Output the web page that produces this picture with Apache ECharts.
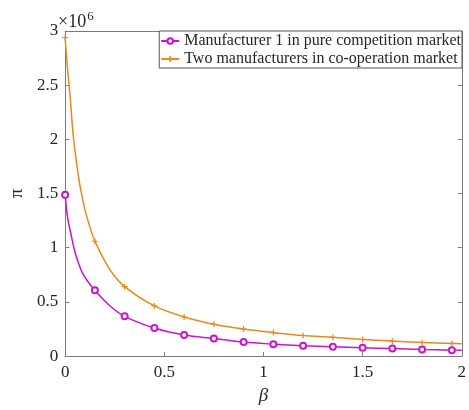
<!DOCTYPE html>
<html>
<head>
<meta charset="utf-8">
<script src="https://cdn.jsdelivr.net/npm/echarts@6/dist/echarts.min.js"></script>
<style>
html,body{margin:0;padding:0;background:#fff;}
#chart{width:469px;height:410px;}
</style>
</head>
<body>
<div id="chart"></div>
<script>
// beta values (x) and profit values in units of 1e6
const seriesNames = ['Manufacturer 1 in pure competition market', 'Two manufacturers in co-operation market'];
const markerBeta = [0, 0.15, 0.3, 0.45, 0.6, 0.75, 0.9, 1.05, 1.2, 1.35, 1.5, 1.65, 1.8, 1.95];

// Manufacturer 1 curve (read points, including extra points along the steep start)
const betaM1 = [0, 0.013, 0.03, 0.048, 0.065, 0.084, 0.11, 0.15, 0.225, 0.3, 0.45, 0.6, 0.75, 0.9, 1.05, 1.2, 1.35, 1.5, 1.65, 1.8, 1.95, 2.0];
const piM1   = [1.49, 1.27, 1.12, 0.97, 0.87, 0.78, 0.70, 0.607, 0.465, 0.367, 0.259, 0.195, 0.162, 0.129, 0.110, 0.096, 0.086, 0.077, 0.069, 0.061, 0.055, 0.054];

// Two manufacturers curve
const betaCo = [0, 0.012, 0.025, 0.04, 0.06, 0.076, 0.1, 0.125, 0.15, 0.225, 0.3, 0.45, 0.6, 0.75, 0.9, 1.05, 1.2, 1.35, 1.5, 1.65, 1.8, 1.95, 2.0];
const piCo   = [2.94, 2.65, 2.40, 2.05, 1.75, 1.56, 1.35, 1.19, 1.06, 0.80, 0.641, 0.463, 0.361, 0.294, 0.249, 0.217, 0.190, 0.174, 0.153, 0.138, 0.126, 0.117, 0.115];

const xTicks = [0, 0.5, 1, 1.5, 2];
const yTicks = [0, 0.5, 1, 1.5, 2, 2.5, 3];

const colM1 = '#cc14cc';
const colCo = '#e8891a';
const plusPath = 'path://M5,0 L5,10 M0,5 L10,5';

function isMarker(b){ return markerBeta.some(m => Math.abs(m - b) < 1e-9); }
function buildData(xs, ys){
  return xs.map((x, i) => isMarker(x) ? {value:[x, ys[i]]} : {value:[x, ys[i]], symbol:'none'});
}

const font = '"Liberation Serif", "Times New Roman", serif';
const axisCol = '#7a7a7a';
const txtCol = '#262626';

const chart = echarts.init(document.getElementById('chart'), null, {renderer:'canvas'});
const baseAxis = {
  type:'value', min:0,
  axisLine:{show:true, onZero:false, lineStyle:{color:axisCol, width:1}},
  axisTick:{show:true, inside:true, length:4, lineStyle:{color:axisCol}},
  splitLine:{show:false},
};
chart.setOption({
  animation:false,
  backgroundColor:'#fff',
  grid:{left:58, right:6, top:31, bottom:47},
  graphic:[{
    type:'text', left:58, top:10,
    style:{
      text:'×10{s|6}', font:'18px ' + font, fill:txtCol,
      rich:{s:{fontSize:13, fontFamily:font, fill:txtCol, verticalAlign:'top', padding:[0,0,12,1]}}
    }
  }],
  xAxis:[
    Object.assign({}, baseAxis, {
      max:2, interval:0.5, position:'bottom',
      name:'β', nameLocation:'middle', nameGap:28,
      nameTextStyle:{fontFamily:font, fontSize:19, fontStyle:'italic', color:txtCol},
      axisLabel:{color:txtCol, fontFamily:font, fontSize:17, margin:8,
        formatter: v => xTicks.includes(v) ? String(v) : ''}
    }),
    Object.assign({}, baseAxis, {max:2, interval:0.5, position:'top', axisLabel:{show:false}})
  ],
  yAxis:[
    Object.assign({}, baseAxis, {
      max:3, interval:0.5, position:'left',
      name:'π', nameLocation:'middle', nameGap:27, nameRotate:90,
      nameTextStyle:{fontFamily:font, fontSize:18, color:txtCol},
      axisLabel:{color:txtCol, fontFamily:font, fontSize:17, margin:7,
        formatter: v => yTicks.includes(v) ? String(v) : ''}
    }),
    Object.assign({}, baseAxis, {max:3, interval:0.5, position:'right', axisLabel:{show:false}})
  ],
  legend:{
    orient:'vertical', right:7, top:31,
    backgroundColor:'#fff', borderColor:'#555', borderWidth:1,
    padding:[2,1,1,1], itemGap:2, itemWidth:18, itemHeight:7,
    textStyle:{fontFamily:font, fontSize:16, color:txtCol},
    data:seriesNames
  },
  series:[
    {
      name:seriesNames[0], type:'line', smooth:0.35, xAxisIndex:0, yAxisIndex:0,
      data:buildData(betaM1, piM1),
      symbol:'emptyCircle', symbolSize:6, showAllSymbol:true,
      lineStyle:{color:colM1, width:1.5},
      itemStyle:{color:colM1, borderColor:colM1, borderWidth:1.5},
      z:3
    },
    {
      name:seriesNames[1], type:'line', smooth:0.35, xAxisIndex:0, yAxisIndex:0,
      data:buildData(betaCo, piCo),
      symbol:plusPath, symbolSize:6, showAllSymbol:true,
      lineStyle:{color:colCo, width:1.5},
      itemStyle:{color:'rgba(0,0,0,0)', borderColor:colCo, borderWidth:1.2},
      z:2
    }
  ]
});
</script>
</body>
</html>
